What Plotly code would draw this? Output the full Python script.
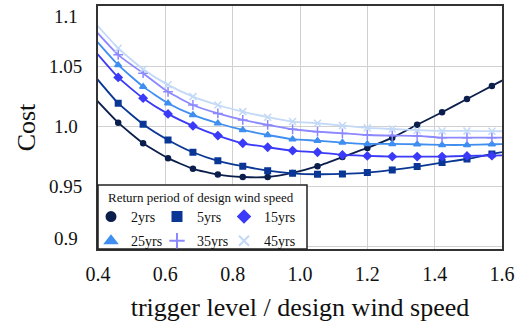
import plotly.graph_objects as go

x_vals = [0.386, 0.460, 0.534, 0.608, 0.682, 0.756, 0.830, 0.904, 0.978,
          1.052, 1.126, 1.200, 1.274, 1.348, 1.422, 1.496, 1.570, 1.644]

y_2yrs = [1.025, 1.0033, 0.9861, 0.9737, 0.9648, 0.9600, 0.9580, 0.9580, 0.9614,
          0.9670, 0.9746, 0.9822, 0.9908, 1.0015, 1.0120, 1.0230, 1.0339, 1.0448]
y_5yrs = [1.0435, 1.0195, 1.002, 0.9889, 0.9786, 0.9715, 0.9670, 0.9633, 0.9611,
          0.9603, 0.9606, 0.9617, 0.9639, 0.9667, 0.9700, 0.9730, 0.9772, 0.981]
y_15yrs = [1.0645, 1.041, 1.0237, 1.0106, 1.0006, 0.9925, 0.9861, 0.9828, 0.980,
           0.9786, 0.9764, 0.9756, 0.975, 0.975, 0.975, 0.9756, 0.9758, 0.9764]
y_25yrs = [1.0745, 1.0514, 1.0333, 1.0195, 1.0097, 1.0028, 0.9972, 0.993, 0.9895,
           0.9883, 0.9867, 0.9856, 0.9856, 0.9853, 0.9847, 0.9847, 0.9853, 0.9855]
y_35yrs = [1.082, 1.0598, 1.0445, 1.029, 1.018, 1.011, 1.0056, 1.0014, 0.9978,
           0.9958, 0.9944, 0.993, 0.9925, 0.9922, 0.9908, 0.9908, 0.9908, 0.9908]
y_45yrs = [1.088, 1.0653, 1.0478, 1.0348, 1.025, 1.018, 1.0125, 1.0078, 1.0042,
           1.0028, 1.0008, 0.999, 0.998, 0.997, 0.9964, 0.9964, 0.9962, 0.996]

series_names = ["2yrs", "5yrs", "15yrs", "25yrs", "35yrs", "45yrs"]
series_values = [y_2yrs, y_5yrs, y_15yrs, y_25yrs, y_35yrs, y_45yrs]
colors = ["#0c1f4c", "#0a3796", "#3a3af8", "#3f8ef0", "#8c88ff", "#c2d9f7"]
symbols = ["circle", "square", "diamond", "triangle-up", "cross-thin", "x-thin"]
plot_sizes = [5, 5.5, 6, 6, 7, 7]
legend_sizes = [9, 9, 9, 10, 11, 10]
legend_of = ["legend", "legend2", "legend3", "legend", "legend2", "legend3"]

x_ticks = [0.4, 0.6, 0.8, 1.0, 1.2, 1.4, 1.6]
x_ticktext = ["0.4", "0.6", "0.8", "1.0", "1.2", "1.4", "1.6"]
y_ticks = [0.9, 0.95, 1.0, 1.05, 1.1]
y_ticktext = ["0.9", "0.95", "1.0", "1.05", "1.1"]

legend_title = "Return period of design wind speed"

FONT = "Liberation Serif, Times New Roman, serif"

fig = go.Figure()
for name, ys, c, s, ms in zip(series_names, series_values, colors, symbols, plot_sizes):
    fig.add_trace(go.Scatter(
        x=x_vals, y=ys, mode="lines+markers", name=name, showlegend=False,
        line=dict(color=c, width=1.8, shape="spline", smoothing=0.5),
        marker=dict(symbol=s, size=ms, color=c, line=dict(color=c, width=1.5)),
    ))

for name, c, s, ls, lg in zip(series_names, colors, symbols, legend_sizes, legend_of):
    fig.add_trace(go.Scatter(
        x=[None], y=[None], mode="markers", name=name, legend=lg, legendgroup=name,
        marker=dict(symbol=s, size=ls, color=c, line=dict(color=c, width=2)),
    ))

legend_common = dict(
    orientation="v", xref="paper", yref="paper", xanchor="left", yanchor="top",
    y=(249 - 201) / 243, bgcolor="rgba(0,0,0,0)", borderwidth=0, tracegroupgap=3,
    font=dict(family=FONT, size=14, color="#111"), itemclick=False,
)

# y tick labels: centred column, edge labels nudged inward (as in the original)
n_ticks = len(y_ticks)
y_label_annotations = []
for i, (v, t) in enumerate(zip(y_ticks, y_ticktext)):
    shift = 0
    if i == 0:
        shift = 8
    elif i == n_ticks - 1:
        shift = -10
    y_label_annotations.append(dict(
        text=t, xref="paper", yref="y", x=(65.5 - 98) / 404, y=v,
        xanchor="center", yanchor="middle", yshift=shift, showarrow=False,
        font=dict(family=FONT, size=19, color="#111"),
    ))

fig.update_layout(
    width=522, height=327,
    margin=dict(l=98, r=20, t=6, b=78),
    paper_bgcolor="white", plot_bgcolor="white",
    font=dict(family=FONT, color="#111"),
    xaxis=dict(
        range=[0.4, 1.6], tickvals=x_ticks, ticktext=x_ticktext,
        tickfont=dict(family=FONT, size=20, color="#111"),
        showgrid=True, gridcolor="#d0d0d0", gridwidth=1,
        showline=True, linecolor="#333", linewidth=1.5, mirror=True,
        zeroline=False, ticks="", ticklabelstandoff=6, ticklabeloverflow="allow",
        automargin=False,
        title=dict(text="trigger level / design wind speed",
                   font=dict(family=FONT, size=26, color="#111"), standoff=14),
    ),
    yaxis=dict(
        range=[0.898, 1.1005], tickvals=y_ticks, showticklabels=False,
        showgrid=True, gridcolor="#d0d0d0", gridwidth=1,
        showline=True, linecolor="#333", linewidth=1.5, mirror=True,
        zeroline=False, ticks="", automargin=False,
        title=dict(text="Cost", font=dict(family=FONT, size=26, color="#111"), standoff=53),
    ),
    legend=dict(**legend_common, x=(91 - 98) / 404),
    legend2=dict(**legend_common, x=(157 - 98) / 404),
    legend3=dict(**legend_common, x=(224 - 98) / 404),
    shapes=[dict(
        type="rect", xref="paper", yref="paper",
        x0=0, x1=209 / 404, y0=0, y1=(249 - 185) / 243,
        line=dict(color="#222", width=1.5), fillcolor="white", layer="above",
    )],
    annotations=y_label_annotations + [dict(
        text=legend_title, xref="paper", yref="paper",
        x=(106 - 98) / 404, y=(249 - 197) / 243, xanchor="left", yanchor="middle",
        showarrow=False, font=dict(family=FONT, size=13, color="#111"),
    )],
)

fig.write_html("out.html")
